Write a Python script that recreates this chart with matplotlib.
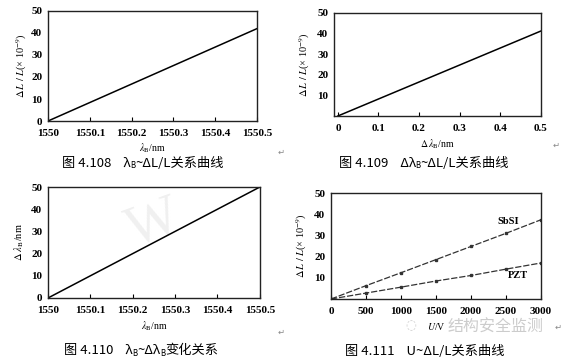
import matplotlib
matplotlib.use('Agg')
import matplotlib.pyplot as plt

# panel data
wl_b = [1550, 1550.5]
strain_wl = [0, 42]

d_wl = [0, 0.5]
strain_dwl = [0, 41.2]

wl_b2 = [1550, 1550.5]
d_wl2 = [0, 50]

voltage = [0, 500, 1000, 1500, 2000, 2500, 3000]
sbsi = [0, 6.3, 12.4, 18.6, 24.8, 31.0, 37.4]
pzt = [0, 2.8, 5.6, 8.5, 11.1, 14.1, 17.0]

wl_ticks = [1550, 1550.1, 1550.2, 1550.3, 1550.4, 1550.5]
wl_ticklabels = ['1550', '1550.1', '1550.2', '1550.3', '1550.4', '1550.5']
dwl_ticks = [0, 0.1, 0.2, 0.3, 0.4, 0.5]
u_ticks = [0, 500, 1000, 1500, 2000, 2500, 3000]

# captions as (text, is_subscript) pieces
captions = [
    [('图 4.108    λ', 0), ('B', 1), ('~ΔL/L关系曲线', 0)],
    [('图 4.109    Δλ', 0), ('B', 1), ('~ΔL/L关系曲线', 0)],
    [('图 4.110    λ', 0), ('B', 1), ('~Δλ', 0), ('B', 1), ('变化关系', 0)],
    [('图 4.111    U~ΔL/L关系曲线', 0)],
]

plt.rcParams['mathtext.fontset'] = 'stix'
serif = 'Liberation Serif'
cjk = ['Noto Sans CJK SC', 'DejaVu Sans']
strain_label = r'$\Delta\,L\ /\ L$(× 10$^{-9}$)'

fig = plt.figure(figsize=(5.62, 3.62), dpi=100)
fig.patch.set_facecolor('white')

ax1 = fig.add_axes([0.0854, 0.6657, 0.372, 0.304])
ax2 = fig.add_axes([0.594, 0.6796, 0.368, 0.2845])
ax3 = fig.add_axes([0.0854, 0.1768, 0.377, 0.3066])
ax4 = fig.add_axes([0.589, 0.174, 0.3737, 0.2928])


def style(ax):
    for s in ax.spines.values():
        s.set_linewidth(1.0)
        s.set_color('#222222')
    ax.tick_params(axis='x', direction='in', length=3, width=0.8, pad=6, labelsize=8)
    ax.tick_params(axis='y', length=0, pad=4, labelsize=8)
    for lab in ax.get_xticklabels() + ax.get_yticklabels():
        lab.set_fontfamily(serif)
        lab.set_fontweight('bold')


ax1.plot(wl_b, strain_wl, color='black', lw=1.1)
ax1.set_xlim(1550, 1550.5)
ax1.set_ylim(0, 50)
ax1.set_xticks(wl_ticks)
ax1.set_xticklabels(wl_ticklabels)
ax1.set_yticks([0, 10, 20, 30, 40, 50])
style(ax1)
ax1.set_ylabel(strain_label, fontsize=7.5, labelpad=2, family=serif)
ax1.set_xlabel(r'$\lambda_{\rm B}$/nm', fontsize=7, labelpad=2, family=serif)

ax2.plot(d_wl, strain_dwl, color='black', lw=1.1)
ax2.set_xlim(-0.01, 0.5)
ax2.set_ylim(0, 50)
ax2.set_xticks(dwl_ticks)
ax2.set_xticklabels(['0', '0.1', '0.2', '0.3', '0.4', '0.5'])
ax2.set_yticks([10, 20, 30, 40, 50])
style(ax2)
ax2.set_ylabel(strain_label, fontsize=7.5, labelpad=4, family=serif)
ax2.set_xlabel(r'$\Delta\,\lambda_{\rm B}$/nm', fontsize=7, labelpad=3, family=serif)

ax3.plot(wl_b2, d_wl2, color='black', lw=1.1)
ax3.set_xlim(1550, 1550.5)
ax3.set_ylim(0, 50)
ax3.set_xticks(wl_ticks)
ax3.set_xticklabels(wl_ticklabels)
ax3.set_yticks([0, 10, 20, 30, 40, 50])
style(ax3)
ax3.set_ylabel(r'$\Delta\ \lambda_{\rm B}$/nm', fontsize=7.5, labelpad=4, family=serif)
ax3.set_xlabel(r'$\lambda_{\rm B}$/nm', fontsize=7, labelpad=3, family=serif)
ax3.text(0.5, 0.66, 'W', transform=ax3.transAxes, fontsize=40, color='#f0f0f0',
         family=serif, rotation=20, ha='center', va='center', zorder=0)

ax4.plot(voltage, sbsi, color='#333333', lw=0.9, ls=(0, (5, 1.5)),
         marker='s', ms=1.8)
ax4.plot(voltage, pzt, color='#333333', lw=0.9, ls=(0, (5, 1.5)),
         marker='s', ms=1.8)
ax4.set_xlim(0, 3000)
ax4.set_ylim(0, 50)
ax4.set_xticks(u_ticks)
ax4.set_yticks([10, 20, 30, 40, 50])
style(ax4)
ax4.set_ylabel(strain_label, fontsize=7.5, labelpad=4, family=serif)
ax4.set_xlabel(r'$U$/V', fontsize=7, labelpad=3, family=serif)
ax4.text(2380, 35.5, 'SbSI', fontsize=7.5, family=serif, fontweight='bold')
ax4.text(2520, 10, 'PZT', fontsize=7.5, family=serif, fontweight='bold')

# watermark bottom right
fig.text(496 / 562, 1 - 327 / 362, '结构安全监测', fontsize=11.5, color='#cccccc',
         family=cjk, ha='center', va='center')
fig.text(411 / 562, 1 - 326 / 362, '◌', fontsize=9, color='#cccccc',
         family='DejaVu Sans', ha='center', va='center')

# captions built from pieces so the B can be a subscript
renderer = fig.canvas.get_renderer()
cap_pos = [(143, 163), (424, 163), (141, 350), (425, 351)]
cap_size = 9.5
for (cx, cy), pieces in zip(cap_pos, captions):
    items = []
    total = 0
    for txt, sub in pieces:
        size = cap_size * 0.6 if sub else cap_size
        t = fig.text(0, 0, txt, fontsize=size, family=cjk, va='baseline')
        w = t.get_window_extent(renderer).width
        items.append((t, w, sub))
        total += w
    x = cx - total / 2
    base = 1 - (cy + 4) / 362
    for t, w, sub in items:
        t.set_position((x / 562, base - (1.5 / 362 if sub else 0)))
        x += w

for x, y in [(281, 152), (556, 145), (281, 332), (558, 327)]:
    fig.text(x / 562, 1 - y / 362, '↵', fontsize=6, color='#888888',
             ha='center', va='center', family='DejaVu Sans')

fig.savefig('out.png', dpi=100)
